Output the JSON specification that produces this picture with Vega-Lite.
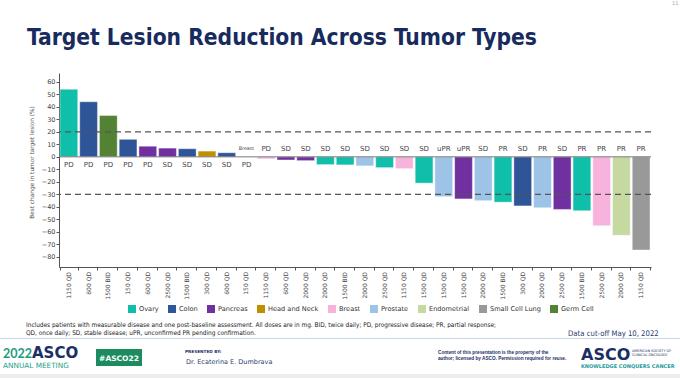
{
  "$schema": "https://vega.github.io/schema/vega-lite/v6.json",
  "width": 592,
  "height": 194,
  "autosize": {"type": "none"},
  "padding": {"left": 59, "top": 73, "right": 29, "bottom": 111},
  "background": "white",
  "title": {
    "text": "Target Lesion Reduction Across Tumor Types",
    "anchor": "start",
    "frame": "group",
    "dx": -32,
    "offset": -67,
    "baseline": "alphabetic",
    "font": "DejaVu Sans Condensed, Liberation Sans",
    "fontSize": 22.6,
    "fontWeight": "bold",
    "color": "#172B5E"
  },
  "config": {
    "view": {"stroke": null},
    "font": "DejaVu Sans"
  },
  "datasets": {
    "bars": [
      {"id": 1, "tumor": "Ovary", "value": 54, "resp": "PD", "dose": "1150 QD"},
      {"id": 2, "tumor": "Colon", "value": 44, "resp": "PD", "dose": "600 QD"},
      {"id": 3, "tumor": "Germ Cell", "value": 33, "resp": "PD", "dose": "1500 BID"},
      {"id": 4, "tumor": "Colon", "value": 14, "resp": "PD", "dose": "150 QD"},
      {"id": 5, "tumor": "Pancreas", "value": 8.5, "resp": "PD", "dose": "600 QD"},
      {"id": 6, "tumor": "Pancreas", "value": 7, "resp": "SD", "dose": "2500 QD"},
      {"id": 7, "tumor": "Colon", "value": 6.5, "resp": "SD", "dose": "1500 BID"},
      {"id": 8, "tumor": "Head and Neck", "value": 4.6, "resp": "SD", "dose": "300 QD"},
      {"id": 9, "tumor": "Colon", "value": 3.3, "resp": "SD", "dose": "600 QD"},
      {"id": 10, "tumor": "Breast", "value": 0, "resp": "PD", "dose": "150 QD", "note": "Breast"},
      {"id": 11, "tumor": "Breast", "value": -1.6, "resp": "PD", "dose": "1150 QD"},
      {"id": 12, "tumor": "Pancreas", "value": -2.5, "resp": "SD", "dose": "600 QD"},
      {"id": 13, "tumor": "Pancreas", "value": -3, "resp": "SD", "dose": "2000 QD"},
      {"id": 14, "tumor": "Ovary", "value": -6.2, "resp": "SD", "dose": "2000 QD"},
      {"id": 15, "tumor": "Ovary", "value": -6.4, "resp": "SD", "dose": "1500 BID"},
      {"id": 16, "tumor": "Prostate", "value": -7.2, "resp": "SD", "dose": "2000 QD"},
      {"id": 17, "tumor": "Ovary", "value": -8.6, "resp": "SD", "dose": "2500 QD"},
      {"id": 18, "tumor": "Breast", "value": -9.4, "resp": "SD", "dose": "1150 QD"},
      {"id": 19, "tumor": "Ovary", "value": -21, "resp": "SD", "dose": "1500 QD"},
      {"id": 20, "tumor": "Prostate", "value": -31.8, "resp": "uPR", "dose": "1500 QD"},
      {"id": 21, "tumor": "Pancreas", "value": -33.6, "resp": "uPR", "dose": "1500 QD"},
      {"id": 22, "tumor": "Prostate", "value": -35, "resp": "SD", "dose": "2000 QD"},
      {"id": 23, "tumor": "Ovary", "value": -36.2, "resp": "PR", "dose": "1500 BID"},
      {"id": 24, "tumor": "Colon", "value": -39.2, "resp": "SD", "dose": "300 QD"},
      {"id": 25, "tumor": "Prostate", "value": -40.6, "resp": "PR", "dose": "2000 QD"},
      {"id": 26, "tumor": "Pancreas", "value": -42, "resp": "SD", "dose": "2500 QD"},
      {"id": 27, "tumor": "Ovary", "value": -43, "resp": "PR", "dose": "1500 BID"},
      {"id": 28, "tumor": "Breast", "value": -55, "resp": "PR", "dose": "2500 QD"},
      {"id": 29, "tumor": "Endometrial", "value": -62.7, "resp": "PR", "dose": "2000 QD"},
      {"id": 30, "tumor": "Small Cell Lung", "value": -74.4, "resp": "PR", "dose": "1150 QD"}
    ],
    "one": [{}]
  },
  "resolve": {"axis": {"y": "independent"}},
  "layer": [
    {
      "data": {"name": "bars"},
      "resolve": {"axis": {"y": "independent"}},
      "encoding": {
        "x": {
          "field": "id",
          "type": "ordinal",
          "scale": {"paddingInner": 0.1, "paddingOuter": 0.05},
          "axis": {
            "title": null,
            "labels": false,
            "tickBand": "extent",
            "tickSize": 3,
            "tickColor": "#555",
            "domainColor": "#555",
            "grid": false
          }
        }
      },
      "layer": [
        {
          "mark": {"type": "bar", "stroke": "white", "strokeWidth": 0.4},
          "encoding": {
            "y": {
              "field": "value",
              "type": "quantitative",
              "scale": {"domain": [-88, 67], "nice": false},
              "axis": {
                "values": [-80, -70, -60, -50, -40, -30, -20, -10, 0, 10, 20, 30, 40, 50, 60],
                "labelOverlap": false,
                "grid": false,
                "labelFont": "DejaVu Sans",
                "labelFontSize": 6.5,
                "labelColor": "#444",
                "labelPadding": 1,
                "tickSize": 3,
                "tickColor": "#555",
                "domainColor": "#555",
                "title": "Best change in tumor target lesion (%)",
                "titleFont": "DejaVu Sans",
                "titleFontSize": 5.8,
                "titleFontWeight": "normal",
                "titleColor": "#555555",
                "titleX": -28,
                "titleY": 89,
                "titleAngle": 270,
                "titleAlign": "center",
                "titleBaseline": "middle"
              }
            },
            "color": {
              "field": "tumor",
              "type": "nominal",
              "scale": {
                "domain": ["Ovary", "Colon", "Pancreas", "Head and Neck", "Breast", "Prostate", "Endometrial", "Small Cell Lung", "Germ Cell"],
                "range": ["#0FBFAA", "#2E5597", "#7030A0", "#BF9000", "#F7B3DC", "#9DC3E6", "#C5D9A0", "#999999", "#548235"]
              },
              "legend": {
                "title": null,
                "orient": "none",
                "legendX": 69,
                "legendY": 232,
                "direction": "horizontal",
                "columns": 9,
                "columnPadding": 9,
                "padding": 0,
                "symbolType": "square",
                "symbolSize": 64,
                "symbolStrokeWidth": 0,
                "labelFont": "DejaVu Sans",
                "labelFontSize": 6.6,
                "labelColor": "#333",
                "labelOffset": 3
              }
            }
          }
        },
        {
          "transform": [{"filter": "datum.value >= 0"}],
          "mark": {"type": "text", "fontSize": 7, "color": "#444", "baseline": "middle", "dy": 8},
          "encoding": {"y": {"datum": 0, "axis": null}, "text": {"field": "resp"}}
        },
        {
          "transform": [{"filter": "datum.value < 0"}],
          "mark": {"type": "text", "fontSize": 7, "color": "#444", "baseline": "middle", "dy": -7.5},
          "encoding": {"y": {"datum": 0, "axis": null}, "text": {"field": "resp"}}
        },
        {
          "transform": [{"filter": "datum.note != null"}],
          "mark": {"type": "text", "fontSize": 4.8, "color": "#444", "baseline": "middle", "dy": -7.5},
          "encoding": {"y": {"datum": 0, "axis": null}, "text": {"field": "note"}}
        },
        {
          "mark": {"type": "text", "fontSize": 6, "color": "#444", "angle": 270, "align": "right", "baseline": "middle", "dx": -5},
          "encoding": {"y": {"datum": -88, "axis": null}, "text": {"field": "dose"}}
        }
      ]
    },
    {
      "data": {"name": "one"},
      "resolve": {"axis": {"y": "independent"}},
      "layer": [
        {
          "mark": {"type": "rule", "color": "#777", "strokeWidth": 1},
          "encoding": {"y": {"datum": 0, "axis": null}}
        },
        {
          "mark": {"type": "rule", "color": "#555", "strokeWidth": 1.1, "strokeDash": [6, 4]},
          "encoding": {"y": {"datum": 20, "axis": null}}
        },
        {
          "mark": {"type": "rule", "color": "#555", "strokeWidth": 1.1, "strokeDash": [6, 4]},
          "encoding": {"y": {"datum": -30, "axis": null}}
        },
        {"mark": {"type": "text", "text": "Includes patients with measurable disease and one post-baseline assessment. All doses are in mg. BID, twice daily; PD, progressive disease; PR, partial response;", "font": "DejaVu Sans Condensed, Liberation Sans", "fontSize": 6.45, "color": "#222", "align": "left", "baseline": "alphabetic"}, "encoding": {"x": {"value": -33}, "y": {"value": 254}}},
        {"mark": {"type": "text", "text": "QD, once daily; SD, stable disease; uPR, unconfirmed PR pending confirmation.", "font": "DejaVu Sans Condensed, Liberation Sans", "fontSize": 6.45, "color": "#222", "align": "left", "baseline": "alphabetic"}, "encoding": {"x": {"value": -33}, "y": {"value": 262}}},
        {"mark": {"type": "text", "text": "Data cut-off May 10, 2022", "font": "DejaVu Sans Condensed, Liberation Sans", "fontSize": 7.7, "color": "#1F3A6E", "align": "left", "baseline": "alphabetic"}, "encoding": {"x": {"value": 509}, "y": {"value": 263}}},
        {"mark": {"type": "rule", "color": "#C6D4EC", "strokeWidth": 1}, "encoding": {"x": {"value": -59}, "x2": {"value": 621}, "y": {"value": 265.5}}},
        {"mark": {"type": "rect", "color": "#EDEDED"}, "encoding": {"x": {"value": -59}, "x2": {"value": 621}, "y": {"value": 301}, "y2": {"value": 305}}},
        {"mark": {"type": "text", "text": "2022", "font": "Lato", "fontWeight": "bold", "fontSize": 12.5, "color": "#1E9C7E", "align": "left", "baseline": "alphabetic"}, "encoding": {"x": {"value": -56}, "y": {"value": 285}}},
        {"mark": {"type": "text", "text": "ASCO", "font": "DejaVu Sans", "fontWeight": "bold", "fontSize": 15, "color": "#1B2E66", "align": "left", "baseline": "alphabetic"}, "encoding": {"x": {"value": -27}, "y": {"value": 285}}},
        {"mark": {"type": "text", "text": "ANNUAL MEETING", "font": "DejaVu Sans", "fontSize": 7.3, "color": "#22A085", "align": "left", "baseline": "alphabetic"}, "encoding": {"x": {"value": -56}, "y": {"value": 294.5}}},
        {"mark": {"type": "rect", "color": "#1C8C5F"}, "encoding": {"x": {"value": 37}, "x2": {"value": 83}, "y": {"value": 276}, "y2": {"value": 293}}},
        {"mark": {"type": "text", "text": "#ASCO22", "font": "DejaVu Sans", "fontWeight": "bold", "fontSize": 7.5, "color": "white", "align": "center", "baseline": "alphabetic"}, "encoding": {"x": {"value": 60}, "y": {"value": 288}}},
        {"mark": {"type": "text", "text": "PRESENTED BY:", "font": "DejaVu Sans", "fontWeight": "bold", "fontSize": 4.2, "color": "#1B2E66", "align": "left", "baseline": "alphabetic"}, "encoding": {"x": {"value": 126}, "y": {"value": 280}}},
        {"mark": {"type": "text", "text": "Dr. Ecaterina E. Dumbrava", "font": "DejaVu Sans", "fontSize": 6.5, "color": "#2B3F73", "align": "left", "baseline": "alphabetic"}, "encoding": {"x": {"value": 127}, "y": {"value": 291}}},
        {"mark": {"type": "text", "text": "Content of this presentation is the property of the", "font": "Liberation Sans", "fontWeight": "bold", "fontSize": 4.7, "color": "#1B2E66", "align": "left", "baseline": "alphabetic"}, "encoding": {"x": {"value": 379}, "y": {"value": 281}}},
        {"mark": {"type": "text", "text": "author; licensed by ASCO. Permission required for reuse.", "font": "Liberation Sans", "fontWeight": "bold", "fontSize": 4.7, "color": "#1B2E66", "align": "left", "baseline": "alphabetic"}, "encoding": {"x": {"value": 379}, "y": {"value": 287}}},
        {"mark": {"type": "text", "text": "ASCO", "font": "DejaVu Sans", "fontWeight": "bold", "fontSize": 16, "color": "#1B2E66", "align": "left", "baseline": "alphabetic"}, "encoding": {"x": {"value": 522}, "y": {"value": 287}}},
        {"mark": {"type": "text", "text": "AMERICAN SOCIETY OF", "font": "DejaVu Sans", "fontSize": 3.4, "color": "#1B2E66", "align": "left", "baseline": "alphabetic"}, "encoding": {"x": {"value": 573}, "y": {"value": 279}}},
        {"mark": {"type": "text", "text": "CLINICAL ONCOLOGY", "font": "DejaVu Sans", "fontSize": 3.4, "color": "#1B2E66", "align": "left", "baseline": "alphabetic"}, "encoding": {"x": {"value": 573}, "y": {"value": 283}}},
        {"mark": {"type": "text", "text": "KNOWLEDGE CONQUERS CANCER", "font": "DejaVu Sans", "fontWeight": "bold", "fontSize": 5, "color": "#1E9AA0", "align": "left", "baseline": "alphabetic"}, "encoding": {"x": {"value": 522}, "y": {"value": 295}}},
        {"mark": {"type": "text", "text": "11", "font": "DejaVu Sans", "fontSize": 5, "color": "#9AA8B8", "align": "left", "baseline": "alphabetic"}, "encoding": {"x": {"value": 613}, "y": {"value": -68}}}
      ]
    }
  ]
}
